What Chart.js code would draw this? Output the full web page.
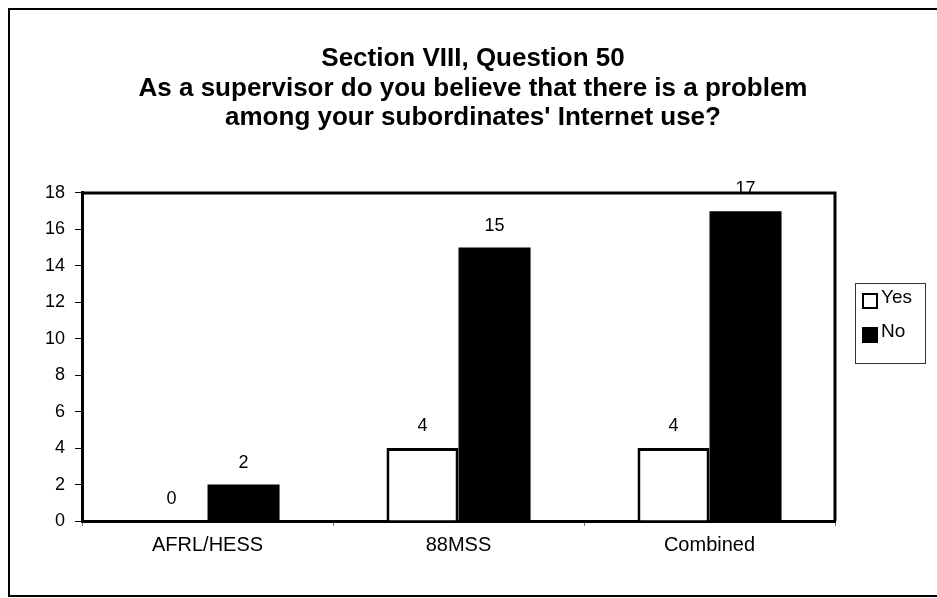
<!DOCTYPE html>
<html>
<head>
<meta charset="utf-8">
<script src="https://cdn.jsdelivr.net/npm/chart.js@4"></script>
<style>
    html, body { margin: 0; padding: 0; background: #fff; }
    #wrap { width: 937px; height: 598px; position: relative; }
</style>
</head>
<body>
<div id="wrap"><canvas id="surveyChart"></canvas></div>
<script>
// Chart data
const categories = ['AFRL/HESS', '88MSS', 'Combined'];
const yesValues = [0, 4, 4];
const noValues = [2, 15, 17];
const seriesNames = ['Yes', 'No'];
const yTicks = [0, 2, 4, 6, 8, 10, 12, 14, 16, 18];
const titleLines = [
    'Section VIII, Question 50',
    'As a supervisor do you believe that there is a problem',
    "among your subordinates' Internet use?"
];

const FONT = "'Liberation Sans', Arial, sans-serif";

// Outer page frame + plot frame
const framePlugin = {
    id: 'frames',
    beforeDraw(chart) {
        const ctx = chart.ctx;
        ctx.save();
        ctx.fillStyle = '#fff';
        ctx.fillRect(0, 0, chart.width, chart.height);
        ctx.strokeStyle = '#000';
        ctx.lineWidth = 2;
        ctx.strokeRect(9, 9, 940, 587);
        ctx.restore();
    },
    afterDatasetsDraw(chart) {
        const { ctx, chartArea: a } = chart;
        ctx.save();
        ctx.strokeStyle = '#000';
        ctx.lineWidth = 3;
        ctx.beginPath();
        ctx.moveTo(a.left, a.top);
        ctx.lineTo(a.right, a.top);
        ctx.lineTo(a.right, a.bottom);
        ctx.stroke();
        ctx.restore();
    }
};

// Value labels above each bar
const valueLabels = {
    id: 'valueLabels',
    afterDatasetsDraw(chart) {
        const ctx = chart.ctx;
        ctx.save();
        ctx.font = `18px ${FONT}`;
        ctx.fillStyle = '#000';
        ctx.textAlign = 'center';
        ctx.textBaseline = 'alphabetic';
        chart.data.datasets.forEach((ds, i) => {
            chart.getDatasetMeta(i).data.forEach((bar, j) => {
                ctx.fillText(String(ds.data[j]), bar.x, bar.y - 17);
            });
        });
        ctx.restore();
    }
};

// Boxed legend to the right of the plot
const boxLegend = {
    id: 'boxLegend',
    afterDraw(chart) {
        const ctx = chart.ctx;
        const a = chart.chartArea;
        const items = Chart.defaults.plugins.legend.labels.generateLabels(chart);
        const x = a.right + 20, y = 283, w = 70, rowH = 34;
        ctx.save();
        ctx.strokeStyle = '#333';
        ctx.lineWidth = 1;
        ctx.strokeRect(x + 0.5, y + 0.5, w, 12 + rowH * items.length);
        ctx.font = `19px ${FONT}`;
        ctx.textBaseline = 'middle';
        ctx.textAlign = 'left';
        items.forEach((it, k) => {
            const cy = y + 18 + k * rowH;
            ctx.fillStyle = it.fillStyle;
            ctx.fillRect(x + 8, cy - 7, 14, 14);
            ctx.strokeStyle = '#000';
            ctx.lineWidth = 2;
            ctx.strokeRect(x + 8, cy - 7, 14, 14);
            ctx.fillStyle = '#000';
            ctx.fillText(it.text, x + 26, cy - 3);
        });
        ctx.restore();
    }
};

const chart = new Chart(document.getElementById('surveyChart'), {
    type: 'bar',
    data: {
        labels: categories,
        datasets: [{
            label: seriesNames[0],
            data: yesValues,
            backgroundColor: '#ffffff',
            borderColor: '#000000',
            borderWidth: 3,
            categoryPercentage: 0.574,
            barPercentage: 1
        }, {
            label: seriesNames[1],
            data: noValues,
            backgroundColor: '#000000',
            borderColor: '#000000',
            borderWidth: 0,
            categoryPercentage: 0.574,
            barPercentage: 1
        }]
    },
    options: {
        responsive: true,
        maintainAspectRatio: false,
        animation: false,
        devicePixelRatio: 1,
        layout: { padding: { left: 35, right: 26, top: 0, bottom: 34 } },
        plugins: {
            legend: { display: false },
            tooltip: { enabled: false },
            title: {
                display: true,
                text: titleLines,
                color: '#000',
                font: { family: FONT, size: 26, weight: 'bold', lineHeight: 1.14 },
                padding: { top: 44, bottom: 60 }
            }
        },
        scales: {
            x: {
                grid: {
                    display: true,
                    drawOnChartArea: false,
                    tickLength: 5,
                    color: '#777',
                    lineWidth: 1
                },
                border: { display: true, color: '#000', width: 3 },
                ticks: {
                    color: '#000',
                    padding: 7,
                    font: { family: FONT, size: 20 }
                }
            },
            y: {
                min: 0,
                max: 18,
                afterBuildTicks(scale) {
                    scale.ticks = yTicks.map(v => ({ value: v }));
                },
                grid: {
                    display: true,
                    drawOnChartArea: false,
                    tickLength: 7,
                    color: '#000',
                    lineWidth: 1
                },
                border: { display: true, color: '#000', width: 3 },
                ticks: {
                    color: '#000',
                    padding: 10,
                    font: { family: FONT, size: 18 }
                }
            },
            // empty right-hand axis that only reserves room for the legend
            legendSpace: {
                type: 'linear',
                position: 'right',
                display: true,
                grid: { display: false },
                border: { display: false },
                ticks: { display: false },
                afterFit(scale) { scale.width = 76; }
            }
        }
    },
    plugins: [framePlugin, valueLabels, boxLegend]
});
</script>
</body>
</html>
